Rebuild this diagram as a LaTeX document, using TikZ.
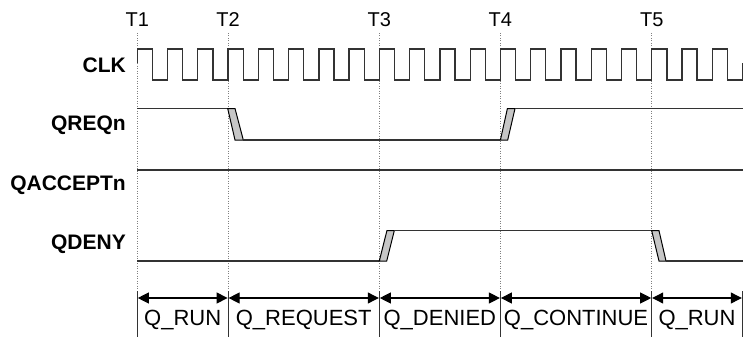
\documentclass[tikz,border=0pt]{standalone}
\usepackage{fontspec}
\setmainfont{Liberation Sans}
\usetikzlibrary{arrows.meta,calc}
\begin{document}
\begin{tikzpicture}[x=1pt,y=-1pt,
  sig/.style={line width=1.3pt,draw=black!80},
  trans/.style={line width=1pt,draw=black,fill=gray!45},
  guide/.style={draw=gray,line width=0.6pt,dash pattern=on 1pt off 1.5pt},
  tick/.style={draw=black!80,line width=1pt},
  span/.style={draw=black,line width=1.1pt,{Triangle[length=11pt,width=11pt]}-{Triangle[length=11pt,width=11pt]}},
  tlabel/.style={font=\fontsize{20}{20}\selectfont,inner sep=0pt},
  siglabel/.style={font=\fontsize{21}{21}\selectfont\bfseries,anchor=east,inner sep=0pt},
  phase/.style={font=\fontsize{22}{22}\selectfont,inner sep=0pt}]
\useasboundingbox (0,0) rectangle (746,337);
% time coordinates
\coordinate (t1) at (137.3,0);
\coordinate (t2) at (228.1,0);
\coordinate (t3) at (379.3,0);
\coordinate (t4) at (500.4,0);
\coordinate (t5) at (651.7,0);
\coordinate (t6) at (742.3,0);
% labels
\foreach \i in {1,...,5}{
  \node[tlabel] (T\i) at ($(t\i)+(0,20)$) {T\i};
}
% guides
\foreach \i in {1,...,5}{
  \coordinate (g\i a) at ($(t\i)+(0,33)$);
  \coordinate (g\i b) at ($(t\i)+(0,290)$);
  \draw[guide] (g\i a) -- (g\i b);
}
% signal labels
\node[siglabel] (lclk) at (126,65) {CLK};
\node[siglabel] (lreq) at (126,125) {QREQn};
\node[siglabel] (lacc) at (126,185) {QACCEPTn};
\node[siglabel] (lden) at (126,244) {QDENY};
% clock
\draw[sig,line join=miter] (137.3,63) -- (137.3,49)
  \foreach \k in {1,...,19}{ -- ++(15.13,0) -- ++(0,31) -- ++(15.13,0) -- ++(0,-31) }
  -- ++(15.13,0) -- ++(0,31) -- ++(15.13,0) -- ++(0,-17);
% QREQn
\draw[sig] (137.3,108.5) -- (227.7,108.5);
\draw[trans] (227.7,108.5) -- (235,108.5) -- (243.3,140) -- (235,140) -- cycle;
\draw[sig] (243.3,140) -- (500.4,140);
\draw[trans] (500.4,140) -- (507.7,140) -- (515,108.5) -- (507.4,108.5) -- cycle;
\draw[sig] (515,108.5) -- (742.5,108.5);
% QACCEPTn
\draw[sig] (137.3,170) -- (742.5,170);
% QDENY
\draw[sig] (137.3,261) -- (379.3,261);
\draw[trans] (379.3,261) -- (386.7,261) -- (394.3,230.7) -- (386.9,230.7) -- cycle;
\draw[sig] (394.3,230.7) -- (651.7,230.7);
\draw[trans] (651.7,230.7) -- (659,230.7) -- (666,261) -- (659,261) -- cycle;
\draw[sig] (666,261) -- (742.5,261);
% bottom phase brackets
\foreach \i in {1,...,6}{
  \coordinate (b\i a) at ($(t\i)+(0,291)$);
  \coordinate (b\i b) at ($(t\i)+(0,337)$);
  \coordinate (b\i) at ($(t\i)+(0,298)$);
  \draw[tick] (b\i a) -- (b\i b);
}
\foreach \i/\j in {1/2,2/3,3/4,4/5,5/6}{
  \draw[span] ($(b\i)+(0.5,0)$) -- ($(b\j)+(-0.5,0)$);
}
\node[phase] (p1) at ($(b1)!0.5!(b2)+(0,22)$) {Q\_RUN};
\node[phase] (p2) at ($(b2)!0.5!(b3)+(0,22)$) {Q\_REQUEST};
\node[phase] (p3) at ($(b3)!0.5!(b4)+(0,22)$) {Q\_DENIED};
\node[phase] (p4) at ($(b4)!0.5!(b5)+(0,22)$) {Q\_CONTINUE};
\node[phase] (p5) at ($(b5)!0.5!(b6)+(0,22)$) {Q\_RUN};
\end{tikzpicture}
\end{document}
